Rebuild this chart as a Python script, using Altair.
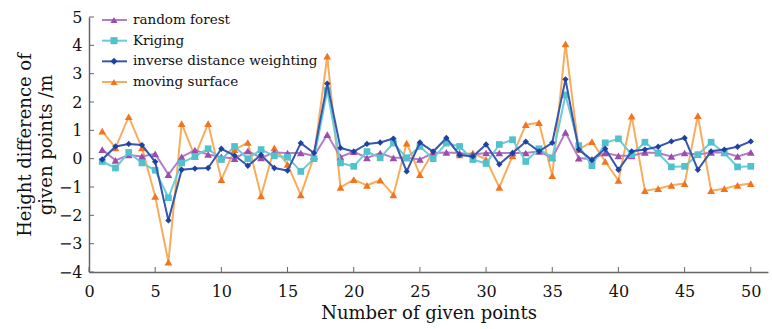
import altair as alt
import pandas as pd

x_points = list(range(1, 51))

random_forest = [0.32, -0.06, 0.13, 0.08, 0.17, -0.56, 0.06, 0.30, 0.15, 0.06,
                 0.00, 0.27, 0.03, 0.22, 0.20, 0.20, 0.10, 0.85, 0.06, 0.25,
                 0.03, 0.20, 0.03, 0.03, -0.03, 0.20, 0.22, 0.20, 0.15, 0.20,
                 0.20, 0.20, 0.20, 0.26, 0.03, 0.93, 0.02, -0.02, 0.20, 0.10,
                 0.10, 0.22, 0.20, 0.08, 0.20, 0.15, 0.22, 0.22, 0.08, 0.22]

kriging = [-0.10, -0.33, 0.22, -0.15, -0.41, -1.38, -0.15, 0.08, 0.35, -0.03,
           0.43, 0.00, 0.32, 0.10, 0.05, -0.45, 0.00, 2.40, -0.15, -0.27,
           0.25, 0.03, 0.55, 0.03, 0.43, 0.00, 0.55, 0.43, -0.03, -0.17,
           0.50, 0.67, -0.10, 0.35, 0.03, 2.25, 0.46, -0.25, 0.56, 0.70,
           0.14, 0.58, 0.20, -0.29, -0.27, 0.14, 0.58, 0.20, -0.29, -0.27]

idw = [-0.03, 0.43, 0.52, 0.48, -0.11, -2.18, -0.39, -0.35, -0.33, 0.35,
       0.11, -0.25, 0.13, -0.33, -0.42, 0.55, 0.20, 2.65, 0.38, 0.25,
       0.52, 0.57, 0.71, -0.45, 0.57, 0.25, 0.73, 0.13, 0.08, 0.50,
       -0.20, 0.20, 0.60, 0.26, 0.56, 2.80, 0.32, -0.05, 0.35, -0.39,
       0.26, 0.32, 0.42, 0.61, 0.73, -0.39, 0.26, 0.32, 0.42, 0.61]

moving_surface = [0.97, 0.38, 1.48, 0.38, -1.33, -3.65, 1.24, 0.08, 1.24, -0.74,
                  0.32, 0.57, -1.31, 0.38, -0.20, -1.28, 0.08, 3.62, -1.01, -0.74,
                  -0.94, -0.76, -1.28, 0.55, -0.56, 0.25, 0.70, 0.13, 0.20, -0.03,
                  -1.01, 0.10, 1.20, 1.27, -0.60, 4.05, 0.32, 0.60, -0.10, -0.77,
                  1.50, -1.13, -1.06, -0.94, -0.88, 1.52, -1.13, -1.06, -0.94, -0.88]

series_names = ["random forest", "Kriging", "inverse distance weighting", "moving surface"]
series_values = [random_forest, kriging, idw, moving_surface]
line_colors = ["#b47cc7", "#6ccbd6", "#3657b0", "#f9ad5c"]
marker_colors = ["#9c4dab", "#4fc2ce", "#1f42a0", "#f3741f"]
marker_shapes = ["triangle-up", "square", "diamond", "triangle-up"]
marker_sizes = [60, 45, 40, 60]
draw_order = [3, 0, 1, 2]

x_ticks = [0, 5, 10, 15, 20, 25, 30, 35, 40, 45, 50]
y_ticks = [-4, -3, -2, -1, 0, 1, 2, 3, 4, 5]

W, H = 679, 255
FONT = "DejaVu Serif"

xscale = alt.Scale(domain=[0, 51.3], nice=False, zero=False)
yscale = alt.Scale(domain=[-4, 5], nice=False, zero=False)

rows = []
for name, vals in zip(series_names, series_values):
    for xi, v in zip(x_points, vals):
        rows.append({"series": name, "x": xi, "y": v})
df = pd.DataFrame(rows)

xaxis = alt.Axis(values=x_ticks, ticks=False, labelPadding=11, title="Number of given points",
                 titlePadding=5, grid=False, labelFlush=False, titleFontSize=18)
yaxis = alt.Axis(values=y_ticks, ticks=False, labelPadding=7,
                 title=["Height difference of", "given points /m"], titlePadding=3,
                 grid=False, titleFontSize=18, titleLineHeight=21)

layers = []
for i in draw_order:
    sub = df[df["series"] == series_names[i]]
    base = alt.Chart(sub)
    xe = alt.X("x:Q", scale=xscale, axis=xaxis)
    ye = alt.Y("y:Q", scale=yscale, axis=yaxis)
    layers.append(base.mark_line(color=line_colors[i], strokeWidth=2).encode(x=xe, y=ye))
    layers.append(base.mark_point(filled=True, color=marker_colors[i], shape=marker_shapes[i],
                                  size=marker_sizes[i], opacity=1).encode(x=xe, y=ye))

xt = pd.DataFrame({"x": x_ticks})
yt = pd.DataFrame({"y": y_ticks})
xtick_layer = alt.Chart(xt).mark_rule(color="#666", strokeWidth=1).encode(
    x=alt.X("x:Q", scale=xscale, axis=xaxis), y=alt.value(H), y2=alt.value(H - 5))
ytick_layer = alt.Chart(yt).mark_rule(color="#666", strokeWidth=1).encode(
    y=alt.Y("y:Q", scale=yscale, axis=yaxis), x=alt.value(0), x2=alt.value(5))

main = alt.layer(*layers, xtick_layer, ytick_layer)

leg = pd.DataFrame({"series": series_names, "row": list(range(len(series_names)))})
ly = alt.Y("row:Q", scale=alt.Scale(domain=[0, 3], range=[3, 65]), axis=None)
leg_line = alt.Chart(leg).mark_rule(strokeWidth=2).encode(
    y=ly, x=alt.value(13), x2=alt.value(38),
    color=alt.Color("series:N", scale=alt.Scale(domain=series_names, range=line_colors), legend=None))
leg_pt = alt.Chart(leg).mark_point(filled=True, opacity=1, size=50).encode(
    y=ly, x=alt.value(25),
    fill=alt.Fill("series:N", scale=alt.Scale(domain=series_names, range=marker_colors), legend=None),
    shape=alt.Shape("series:N", scale=alt.Scale(domain=series_names, range=marker_shapes), legend=None))
leg_txt = alt.Chart(leg).mark_text(align="left", baseline="middle", font=FONT, fontSize=13.5,
                                    color="#111").encode(
    y=ly, x=alt.value(44), text="series:N")
legend_layer = alt.layer(leg_line, leg_pt, leg_txt)

chart = alt.layer(main, legend_layer).resolve_scale(
    y="independent", color="independent", fill="independent", shape="independent"
).properties(
    width=W, height=H,
    autosize=alt.AutoSizeParams(type="none"),
    padding={"left": 89, "top": 17, "right": 4, "bottom": 57},
    background="white",
).configure_view(stroke=None).configure_axis(
    labelFont=FONT, titleFont=FONT, labelFontSize=16,
    labelColor="#111", titleColor="#111", titleFontWeight="normal",
    domainColor="#666", domainWidth=1.5,
)

chart.save("out.html", embed_options={"renderer": "svg", "actions": False})
